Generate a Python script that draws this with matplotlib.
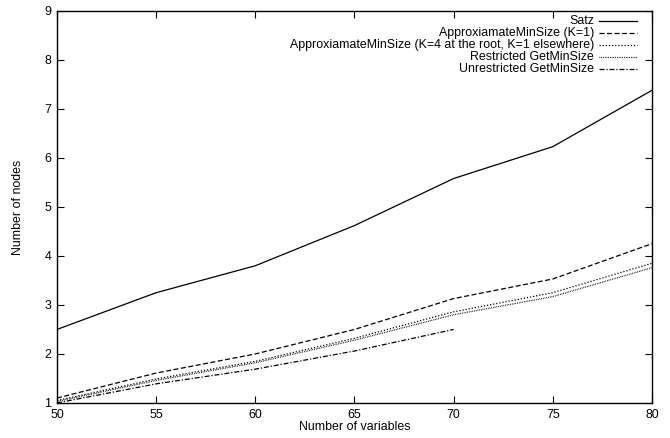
import matplotlib
matplotlib.use("Agg")
import matplotlib.pyplot as plt

plt.rcParams['font.family'] = ['Liberation Sans', 'DejaVu Sans']

# number of variables
variables = [50, 55, 60, 65, 70, 75, 80]
variables_unres = [50, 55, 60, 65, 70]

satz = [2.50, 3.25, 3.80, 4.62, 5.58, 6.23, 7.38]
approx_k1 = [1.10, 1.61, 2.00, 2.50, 3.13, 3.53, 4.25]
approx_k4 = [1.05, 1.49, 1.85, 2.32, 2.86, 3.25, 3.85]
restricted = [1.03, 1.46, 1.82, 2.28, 2.80, 3.17, 3.76]
unrestricted = [1.00, 1.39, 1.69, 2.06, 2.50]

labels = ["Satz",
          "ApproxiamateMinSize (K=1)",
          "ApproxiamateMinSize (K=4 at the root, K=1 elsewhere)",
          "Restricted GetMinSize",
          "Unrestricted GetMinSize"]

fs = 8.9

fig = plt.figure(figsize=(6.7, 4.38), dpi=100)
ax = fig.add_axes([0.085, 0.08, 0.888, 0.895])

series = [
    (variables, satz, dict(linestyle='-')),
    (variables, approx_k1, dict(dashes=(4, 2))),
    (variables, approx_k4, dict(dashes=(1, 1.5))),
    (variables, restricted, dict(dashes=(0.6, 0.8))),
    (variables_unres, unrestricted, dict(dashes=(4, 1.5, 1, 1.5))),
]

lw = 0.9
for xs, ys, style in series:
    ax.plot(xs, ys, color='black', linewidth=lw, **style)

# gnuplot-style key: right-aligned text with a line sample after it
for i, (lab, (xs, ys, style)) in enumerate(zip(labels, series)):
    yk = 0.975 - i * 0.0306
    ax.text(0.903, yk, lab, transform=ax.transAxes, ha='right', va='center',
            fontsize=fs)
    ax.plot([0.911, 0.975], [yk, yk], transform=ax.transAxes,
            color='black', linewidth=lw, **style)

ax.set_xlim(50, 80)
ax.set_ylim(1, 9)
ax.set_xticks(range(50, 81, 5))
ax.set_yticks(range(1, 10))
ax.tick_params(direction='in', top=True, right=True, length=5,
               labelsize=fs, pad=4)
ax.set_xlabel("Number of variables", fontsize=fs, labelpad=0)
ax.set_ylabel("Number of nodes", fontsize=fs, labelpad=15)
for sp in ax.spines.values():
    sp.set_linewidth(1)

fig.savefig("out.png", dpi=100)
